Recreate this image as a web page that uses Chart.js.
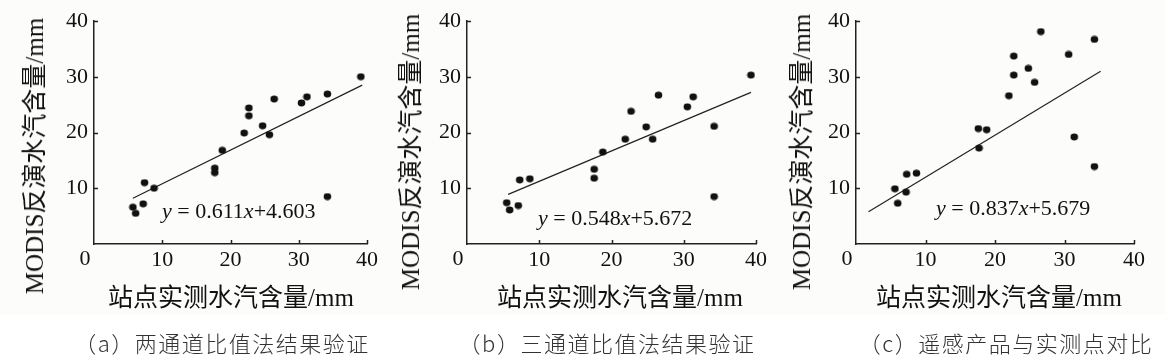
<!DOCTYPE html>
<html>
<head>
<meta charset="utf-8">
<script src="https://cdn.jsdelivr.net/npm/chart.js@4.4.0/dist/chart.umd.min.js"></script>
<style>
  body { margin: 0; width: 1166px; height: 364px; background: #fff; position: relative; overflow: hidden; }
  .band { position: absolute; left: 0; top: 0; width: 1166px; height: 314px; background: #fcfcfa; }
  canvas { position: absolute; top: 0; }
  .t { position: absolute; white-space: nowrap; color: #111; font-family: "Liberation Serif", "Noto Sans CJK SC", serif; }
  .ytitle { font-size: 25px; transform: translate(-50%, -50%) rotate(-90deg); }
  .xtitle { font-size: 25px; transform: translate(-50%, -50%); }
  .eq { font-size: 22px; transform: translateY(-50%); }
  .cap { font-family: "Noto Sans CJK SC", sans-serif; font-size: 22px; letter-spacing: 1.5px; color: #333; font-weight: 300; transform: translate(-50%, -50%); }
</style>
</head>
<body>
<div class="band"></div>
<canvas id="chartA" width="390" height="280" style="left:0px"></canvas>
<canvas id="chartB" width="390" height="280" style="left:390px"></canvas>
<canvas id="chartC" width="390" height="280" style="left:776px"></canvas>
<div id="labels"></div>
<script>
// station measured (x) vs MODIS retrieved (y), mm
const xA = [5.7, 6.1, 7.2, 7.4, 8.8, 17.7, 17.7, 18.8, 22.0, 22.7, 22.7, 24.7, 25.7, 26.4, 30.4, 31.2, 34.2, 34.2, 39.1];
const yA = [6.6, 5.5, 7.2, 11.0, 10.0, 13.6, 12.8, 16.8, 19.9, 23.0, 24.4, 21.2, 19.6, 26.0, 25.3, 26.4, 26.9, 8.5, 30.0];

const xB = [5.5, 5.9, 7.1, 7.3, 8.7, 17.6, 17.6, 18.8, 21.9, 22.7, 24.8, 25.7, 26.5, 30.5, 31.3, 34.2, 34.2, 39.3];
const yB = [7.4, 6.1, 6.9, 11.5, 11.7, 13.4, 11.8, 16.5, 18.8, 23.8, 21.0, 18.8, 26.7, 24.6, 26.4, 21.1, 8.5, 30.3];

const xC = [5.6, 6.0, 7.2, 7.3, 8.7, 17.6, 17.7, 18.8, 22.0, 22.7, 22.7, 24.8, 25.7, 26.6, 30.6, 31.4, 34.3, 34.3];
const yC = [9.9, 7.3, 9.3, 12.5, 12.7, 20.7, 17.2, 20.5, 26.6, 33.7, 30.3, 31.5, 29.0, 38.1, 34.0, 19.2, 36.7, 13.9];

// fitted lines, end points
const fitXA = [5.7, 39.3], fitYA = [8.2, 28.5];
const fitXB = [5.7, 39.3], fitYB = [8.9, 27.2];
const fitXC = [1.8, 35.2], fitYC = [5.8, 31.0];

const equations = [["0.611", "4.603"], ["0.548", "5.672"], ["0.837", "5.679"]];
const captions = ["（a）两通道比值法结果验证", "（b）三通道比值法结果验证", "（c）遥感产品与实测点对比"];
const tickValues = [10, 20, 30, 40];
const yTitle = "MODIS反演水汽含量/mm";
const xTitle = "站点实测水汽含量/mm";

const FONT = '"Liberation Serif", serif';

// filled dot used as point marker
const dot = document.createElement("canvas");
dot.width = 9; dot.height = 8;
const dc = dot.getContext("2d");
dc.fillStyle = "#111";
dc.beginPath();
dc.ellipse(4.5, 4, 3.8, 3.4, 0, 0, Math.PI * 2);
dc.fill();

// inward tick marks + the shifted corner "0"
const axisMarks = {
  id: "axisMarks",
  afterDraw(chart) {
    const { ctx, scales: { x, y } } = chart;
    ctx.save();
    ctx.strokeStyle = "#222";
    ctx.lineWidth = 1.5;
    ctx.beginPath();
    tickValues.forEach(v => {
      const px = Math.round(x.getPixelForValue(v)) + 0.5;
      ctx.moveTo(px, y.bottom);
      ctx.lineTo(px, y.bottom - 4);
      const py = Math.round(y.getPixelForValue(v)) + 0.5;
      ctx.moveTo(x.left, py);
      ctx.lineTo(x.left + 4, py);
    });
    ctx.stroke();
    ctx.fillStyle = "#111";
    ctx.font = "22px " + FONT;
    ctx.textAlign = "center";
    ctx.textBaseline = "middle";
    ctx.fillText("0", x.getPixelForValue(0) - 9, 259);
    ctx.restore();
  }
};

function pts(xs, ys) {
  return xs.map((v, i) => ({ x: v, y: ys[i] }));
}

function makePanel(id, areaLeft, areaRight, xs, ys, fx, fy) {
  new Chart(document.getElementById(id), {
    type: "scatter",
    data: {
      datasets: [
        { data: pts(xs, ys), pointStyle: dot, pointRadius: 4, backgroundColor: "#111", borderWidth: 0 },
        { type: "line", data: pts(fx, fy), showLine: true, pointRadius: 0, borderColor: "#222", borderWidth: 1.2, fill: false }
      ]
    },
    options: {
      responsive: false,
      animation: false,
      devicePixelRatio: 1,
      layout: { padding: { left: 0, top: 21, right: 390 - areaRight, bottom: 0 } },
      plugins: { legend: { display: false }, tooltip: { enabled: false } },
      scales: {
        x: {
          type: "linear", min: 0, max: 40,
          ticks: { stepSize: 10, padding: 3, color: "#111", font: { family: FONT, size: 22 },
                   callback: v => (v === 0 ? "" : v) },
          grid: { display: false, drawTicks: false },
          border: { color: "#222", width: 1.5 },
          afterFit: s => { s.height = 36; }
        },
        y: {
          type: "linear", min: 0, max: 40,
          ticks: { stepSize: 10, padding: 6, color: "#111", font: { family: FONT, size: 22 },
                   callback: v => (v === 0 ? "" : v) },
          grid: { display: false, drawTicks: false },
          border: { color: "#222", width: 1.5 },
          afterFit: s => { s.width = areaLeft; }
        }
      }
    },
    plugins: [axisMarks]
  });
}

makePanel("chartA", 94, 367, xA, yA, fitXA, fitYA);
makePanel("chartB", 77, 366, xB, yB, fitXB, fitYB);
makePanel("chartC", 80, 358, xC, yC, fitXC, fitYC);

// html text: axis titles, equations, captions
const layout = [
  { yt: [32, 156], xt: [231, 295], eq: [162, 211], cap: [222, 342] },
  { yt: [408, 152], xt: [620, 295], eq: [538, 218], cap: [607, 342] },
  { yt: [799, 152], xt: [999, 295], eq: [936, 208], cap: [1006, 342] }
];
const holder = document.getElementById("labels");
function addText(cls, pos, html) {
  const d = document.createElement("div");
  d.className = "t " + cls;
  d.style.left = pos[0] + "px";
  d.style.top = pos[1] + "px";
  d.innerHTML = html;
  holder.appendChild(d);
}
layout.forEach((p, i) => {
  addText("ytitle", p.yt, yTitle);
  addText("xtitle", p.xt, xTitle);
  addText("eq", p.eq, "<i>y</i> = " + equations[i][0] + "<i>x</i>+" + equations[i][1]);
  addText("cap", p.cap, captions[i]);
});
</script>
</body>
</html>
